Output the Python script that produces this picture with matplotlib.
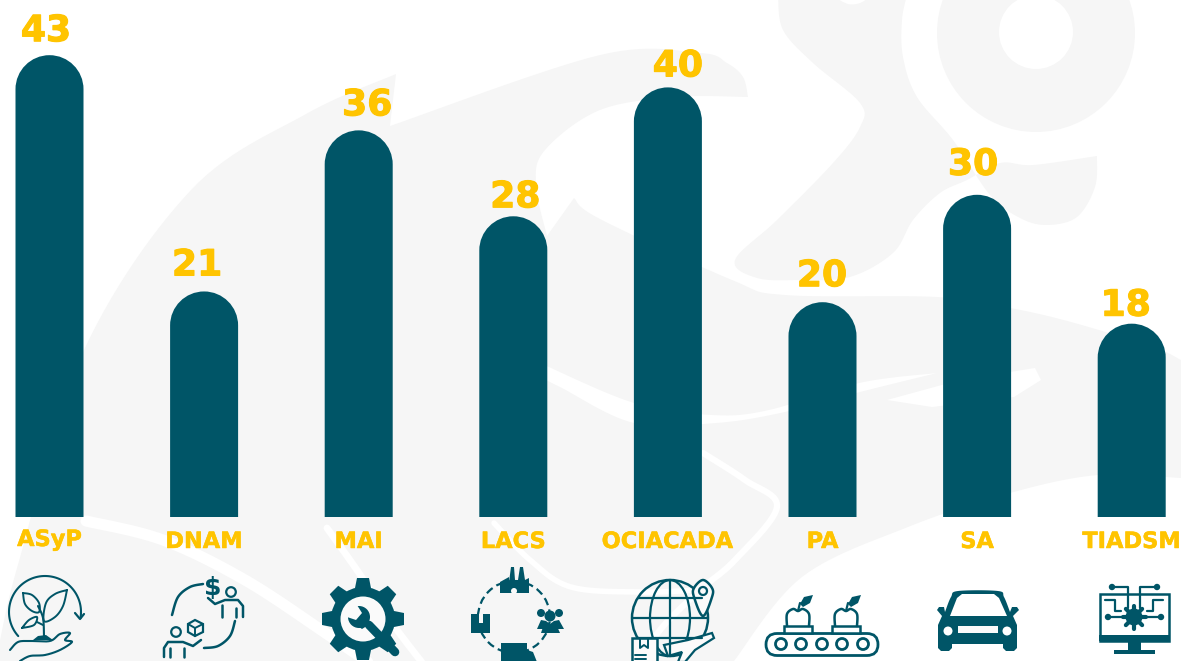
import numpy as np
import matplotlib
matplotlib.use("Agg")
import matplotlib.pyplot as plt
import matplotlib.patheffects as pe
from matplotlib.path import Path
from matplotlib.patches import PathPatch, Circle, Rectangle, Polygon, Ellipse, FancyBboxPatch

categories = ["ASyP", "DNAM", "MAI", "LACS", "OCIACADA", "PA", "SA", "TIADSM"]
values = [43, 21, 36, 28, 40, 20, 30, 18]

TEAL = "#005567"
GOLD = "#FFC400"
GRAY = "#F6F6F6"
W, H = 1181, 661
fig = plt.figure(figsize=(W / 100, H / 100), dpi=100, facecolor="white")

# ---------- pixel-space layer for the watermark and the icons
bg = fig.add_axes([0, 0, 1, 1], zorder=0)
bg.set_xlim(0, W); bg.set_ylim(H, 0); bg.axis("off")
fg = fig.add_axes([0, 0, 1, 1], zorder=2)
fg.set_xlim(0, W); fg.set_ylim(H, 0); fg.axis("off"); fg.patch.set_alpha(0)


def smooth(pts, closed=True, n=14):
    p = np.array(pts, float)
    if closed:
        q = np.vstack([p[-1], p, p[0], p[1]])
    else:
        q = np.vstack([p[0], p, p[-1]])
    out = []
    for i in range(1, len(q) - 2):
        for t in np.linspace(0, 1, n, endpoint=False):
            a, b, c, d = q[i - 1], q[i], q[i + 1], q[i + 2]
            out.append(0.5 * (2 * b + (c - a) * t + (2 * a - 5 * b + 4 * c - d) * t * t + (3 * b - a - 3 * c + d) * t ** 3))
    if not closed:
        out.append(p[-1])
    return np.array(out)


def blob(ax, pts, color=GRAY, z=1):
    ax.add_patch(Polygon(pts, closed=True, fc=color, ec="none", zorder=z))


def band(pts, lw, color="white", z=2):
    s = smooth(pts, closed=False)
    bg.plot(s[:, 0], s[:, 1], color=color, lw=lw, solid_capstyle="round", zorder=z)


# watermark: main body
blob(bg, np.vstack([
    smooth([(0, 640), (19, 561), (84, 350), (191, 190), (306, 114), (396, 74)], closed=False),
    [(390, 126)],
    smooth([(390, 126), (600, 55), (700, 53), (727, 63), (743, 77), (748, 97)], closed=False),
    smooth([(748, 97), (677, 97), (600, 110), (545, 150), (536, 185), (547, 236)], closed=False),
    [(574, 198)],
    smooth([(574, 198), (600, 219), (732, 280), (785, 295), (937, 297), (1010, 308), (1071, 322),
            (1153, 347), (1181, 360)], closed=False),
    [(1181, 478)],
    smooth([(1181, 478), (1098, 475), (1010, 493), (908, 527), (802, 577), (734, 661)], closed=False),
    [(0, 661)],
]))
# swoosh at the top right
blob(bg, np.vstack([
    smooth([(778, -5), (783, 30), (813, 63), (860, 103), (860, 127), (833, 163), (777, 220), (735, 260),
            (757, 278), (800, 280), (850, 277), (893, 253), (913, 220), (940, 193), (967, 180), (1000, 163),
            (1033, 165), (1097, 156)], closed=False),
    smooth([(1097, 156), (1095, 187), (1077, 217), (1047, 225), (1020, 218), (990, 195), (953, 140),
            (917, 97), (903, 57), (902, 20), (907, -5)], closed=False),
]))
blob(bg, smooth([(838, -3), (848, 4), (860, 3), (866, -3)]), "white", 2)
bg.add_patch(Circle((1036, 33), 99, fc=GRAY, ec="none", zorder=1))
bg.add_patch(Circle((1036, 32), 37, fc="white", ec="none", zorder=2))
# white cuts
blob(bg, np.vstack([
    smooth([(540, 363), (634, 403), (712, 415), (769, 410), (859, 383), (937, 373)], closed=False),
    smooth([(937, 373), (860, 392), (785, 412), (716, 423), (634, 423), (560, 387), (530, 372)], closed=False),
]), "white", 2)
blob(bg, [(887, 400), (960, 380), (1035, 368), (1041, 380), (1014, 397), (932, 407)], "white", 2)
band([(86, 521), (163, 540), (245, 580), (327, 634), (372, 665)], 8)
band([(327, 528), (359, 573), (392, 623), (424, 665)], 5)
band([(494, 523), (530, 560), (571, 587), (640, 592), (700, 590)], 4)
band([(703, 453), (745, 480), (777, 507), (735, 560), (700, 590), (660, 630), (640, 665)], 4.5)

# ---------- chart layer: bars with rounded tops, from the data
ax = fig.add_axes([0, 0, 1, 1], zorder=1)
px_x, px_y = 154.6, 10.74
ax.set_xlim(-49.5 / px_x, (W - 49.5) / px_x)
ax.set_ylim(-(H - 517) / px_y, 517 / px_y)
ax.axis("off"); ax.patch.set_alpha(0)
half = 34 / px_x
rx, ry = 34 / px_x, 34 / px_y
K = 0.5523
for i, v in enumerate(values):
    verts = [(i - half, 0), (i - half, v - ry),
             (i - half, v - ry + K * ry), (i - rx * K, v), (i, v),
             (i + rx * K, v), (i + half, v - ry + K * ry), (i + half, v - ry),
             (i + half, 0), (i - half, 0)]
    codes = [Path.MOVETO, Path.LINETO, Path.CURVE4, Path.CURVE4, Path.CURVE4,
             Path.CURVE4, Path.CURVE4, Path.CURVE4, Path.LINETO, Path.CLOSEPOLY]
    ax.add_patch(PathPatch(Path(verts, codes), fc=TEAL, ec="none"))

value_dx = [-3.5, -7, 8.5, 2, 10, -0.5, -4, -6]
value_dy = [7, 9, 8, 2, 4, 9, 13, 1]
label_dx = [0, 0, 0, 0, -0.5, 0, 0, 0]
label_dy = [-23, -25, -25, -25, -25, -25, -25, -25]
for i, (c, v) in enumerate(zip(categories, values)):
    ax.annotate(str(v), (i, v), xytext=(value_dx[i] * .72, value_dy[i] * .72), textcoords="offset points",
                ha="center", va="bottom", color=GOLD, fontsize=26, fontweight="bold", family="DejaVu Sans",
                path_effects=[pe.withStroke(linewidth=0.8, foreground=GOLD)])
    ax.annotate(c, (i, 0), xytext=(label_dx[i] * .72, label_dy[i] * .72), textcoords="offset points",
                ha="center", va="center", color=GOLD, fontsize=16.2, fontweight="bold", family="DejaVu Sans",
                path_effects=[pe.withStroke(linewidth=0.35, foreground=GOLD)])


# ---------- icons
def line(pts, lw=1.6, color=TEAL, ls="-"):
    p = np.array(pts, float)
    fg.plot(p[:, 0], p[:, 1], color=color, lw=lw, ls=ls, solid_capstyle="round", solid_joinstyle="round")


def curve(pts, lw=1.6):
    line(smooth(pts, closed=False), lw)


def fill(pts, color=TEAL):
    fg.add_patch(Polygon(pts, closed=True, fc=color, ec="none"))


def circ(x, y, r, fc=TEAL, ec="none", lw=1.5):
    fg.add_patch(Circle((x, y), r, fc=fc, ec=ec, lw=lw))


def rect(x0, y0, x1, y1, fc=TEAL, ec="none", lw=1.5):
    fg.add_patch(Rectangle((x0, y0), x1 - x0, y1 - y0, fc=fc, ec=ec, lw=lw))


# ASyP: plant in a hand
a = np.radians(np.linspace(222, -10, 80))
line(np.c_[45 + 36 * np.cos(a), 612 - 36 * np.sin(a)], 1.5)
line([(75, 613), (80, 619), (84, 614)])
curve([(23, 593), (32, 595), (39, 603), (39, 612), (32, 611), (25, 604), (23, 593)], 1.4)
curve([(67, 590), (55, 594), (46, 603), (44, 621), (55, 617), (63, 606), (67, 590)], 1.4)
curve([(22, 628), (29, 620), (37, 617), (34, 625), (22, 628)], 1.4)
curve([(38, 606), (43, 618), (44, 636)], 1.5)
curve([(37, 622), (43, 625)], 1.4)
fill([(33, 640), (38, 636), (46, 635), (53, 640)])
curve([(10, 650), (18, 642), (30, 641), (50, 641), (60, 634), (70, 633), (65, 640), (72, 642),
       (60, 650), (45, 655), (30, 656), (20, 661)], 1.5)

# DNAM: exchange
curve([(172, 615), (178, 597), (190, 587), (203, 584)], 1.8)
curve([(235, 621), (230, 636), (218, 646), (204, 648)], 1.8)
fg.text(213, 588, "$", color=TEAL, fontsize=18, fontweight="bold", ha="center", va="center", family="DejaVu Sans")
circ(231, 592, 4.8, fc="none", ec=TEAL, lw=1.6)
line([(208, 598), (215, 604), (225, 600), (238, 600), (243, 606), (243, 617)], 1.8)
line([(222, 605), (222, 617)], 1.8); line([(236, 608), (236, 617)], 1.8)
circ(176, 632, 4.8, fc="none", ec=TEAL, lw=1.6)
line([(201, 640), (193, 646), (183, 642), (168, 642), (164, 648), (164, 657)], 1.8)
line([(170, 648), (170, 657)], 1.8); line([(184, 648), (184, 657)], 1.8)
fg.add_patch(Polygon([(195, 620), (203, 624), (203, 632), (195, 636), (188, 632), (188, 624)], fc="none", ec=TEAL, lw=1.6))
line([(188, 624), (195, 628), (203, 624)], 1.4); line([(195, 628), (195, 636)], 1.4)

# MAI: gear and wrench
gx, gy = 363, 619
for a in np.radians(np.arange(0, 360, 45)):
    c, s = np.cos(a), np.sin(a)
    fill([(gx + 26 * c - 9 * s, gy + 26 * s + 9 * c), (gx + 41 * c - 6 * s, gy + 41 * s + 6 * c),
          (gx + 41 * c + 6 * s, gy + 41 * s - 6 * c), (gx + 26 * c + 9 * s, gy + 26 * s - 9 * c)])
circ(gx, gy, 32)
circ(gx, gy, 22.5, fc="#FAFAFA")
fill([(350, 609), (352, 622), (362, 629), (370, 624)])
circ(359, 617, 11)
fill([(357, 605), (362, 613), (356, 620), (347, 617), (345, 607)], "#FAFAFA")
line([(369, 625), (395, 652)], 6.2)

# LACS: logistics circle
fg.add_patch(Circle((514, 617), 36, fc="none", ec=TEAL, lw=1.6, ls=(0, (3.5, 2))))
fill([(500, 593), (500, 582), (509, 577), (509, 582), (511, 567), (514, 567), (515, 580), (518, 580),
      (520, 567), (523, 567), (525, 580), (529, 578), (529, 593)])
circ(514, 591, 3, fc="#FAFAFA")
rect(471, 614, 490, 633, fc=TEAL)
rect(479, 614, 483, 623, fc="#F6F6F6")
circ(550, 616, 5.5); circ(541, 613, 4); circ(559, 613, 4)
fill([(537, 629), (541, 620), (546, 621), (550, 624), (554, 621), (559, 620), (564, 629)])
fill([(541, 633), (544, 624), (556, 624), (560, 633)])
rect(501, 643, 527, 662)
fill([(527, 650), (533, 652), (537, 662), (527, 662)])

# OCIACADA: globe, pin, parcel, plane
circ(670, 618, 38, fc="none", ec=TEAL, lw=1.8)
fg.add_patch(Ellipse((670, 618), 40, 76, fc="none", ec=TEAL, lw=1.6))
line([(670, 580), (670, 656)], 1.6)
for yy, hw in [(598, 32), (618, 38), (638, 32)]:
    line([(670 - hw, yy), (670 + hw, yy)], 1.6)
fg.add_patch(Polygon(smooth([(703, 616), (694, 597), (694, 588), (703, 580), (712, 588), (712, 597)]), fc="#FBFBFB", ec=TEAL, lw=1.8))
circ(703, 591, 4, fc="none", ec=TEAL, lw=1.6)
rect(632, 638, 657, 665, fc="#FBFBFB", ec=TEAL, lw=1.8)
line([(640, 638), (640, 648), (644, 645), (648, 648), (648, 638)], 1.4)
line([(635, 655), (646, 655)], 1.4); line([(635, 659), (646, 659)], 1.4)
fg.add_patch(Polygon([(664, 645), (688, 640), (712, 633), (714, 638), (695, 650), (685, 662), (678, 662), (682, 652), (668, 656)],
                     fc="#FBFBFB", ec=TEAL, lw=1.6))

# PA: conveyor
fg.add_patch(FancyBboxPatch((766, 633.5), 112, 22, boxstyle="round,pad=0,rounding_size=11", mutation_scale=1,
                            fc="white", ec=TEAL, lw=2))
for x in (781, 801, 822, 842, 863):
    circ(x, 644, 5.5, fc="none", ec=TEAL, lw=2)
for x in (798, 846):
    rect(x - 14, 626, x + 14, 633, fc="white", ec=TEAL, lw=1.8)
    curve([(x - 11, 626), (x - 11, 614), (x - 5, 609), (x, 611), (x + 5, 609), (x + 11, 614), (x + 11, 626)], 1.8)
    line([(x, 611), (x + 2, 603)], 1.6)
    fill([(x + 2, 604), (x + 6, 597), (x + 15, 595), (x + 12, 603), (x + 5, 607)])

# SA: car
fill(np.vstack([smooth([(945, 612), (951, 597), (958, 591), (998, 591), (1004, 597), (1010, 612)], closed=False),
                [(1012, 607), (1017, 607), (1019, 610), (1013, 616), (1017, 625), (1017, 648), (1014, 651),
                 (1006, 651), (1003, 648), (1003, 644), (952, 644), (952, 648), (949, 651), (941, 651),
                 (938, 648), (938, 625), (942, 616), (937, 610), (939, 607), (944, 607)]]))
fill([(950, 616), (957, 598), (962, 594), (994, 594), (999, 598), (1007, 616), (980, 616)], "white")
circ(948, 631, 4.5, fc="white"); circ(1007, 631, 4.5, fc="white")
rect(958, 626, 998, 633, fc="#FBFBFB")

# TIADSM: monitor with circuits
rect(1099.5, 593.5, 1169, 641, fc="white", ec=TEAL, lw=1.8)
rect(1099, 635, 1170, 641)
rect(1128, 641, 1141, 651)
rect(1114, 650, 1155, 654)
for x, y in [(1112, 587), (1157, 587), (1108, 617), (1161, 617)]:
    circ(x, y, 3.2)
line([(1112, 587), (1128, 587), (1128, 608)], 1.6); line([(1157, 587), (1140, 587), (1140, 608)], 1.6)
line([(1108, 617), (1124, 617)], 1.6); line([(1161, 617), (1145, 617)], 1.6)
line([(1105, 600), (1115, 600), (1115, 611), (1121, 611)], 1.6)
line([(1163, 600), (1153, 600), (1153, 611), (1147, 611)], 1.6)
for a in np.radians(np.arange(0, 360, 45)):
    line([(1134, 617), (1134 + 11.5 * np.cos(a), 617 + 11.5 * np.sin(a))], 3)
circ(1134, 617, 8.5); circ(1134, 617, 4.5, fc="white")

fig.savefig("out.png", dpi=100, facecolor="white")
